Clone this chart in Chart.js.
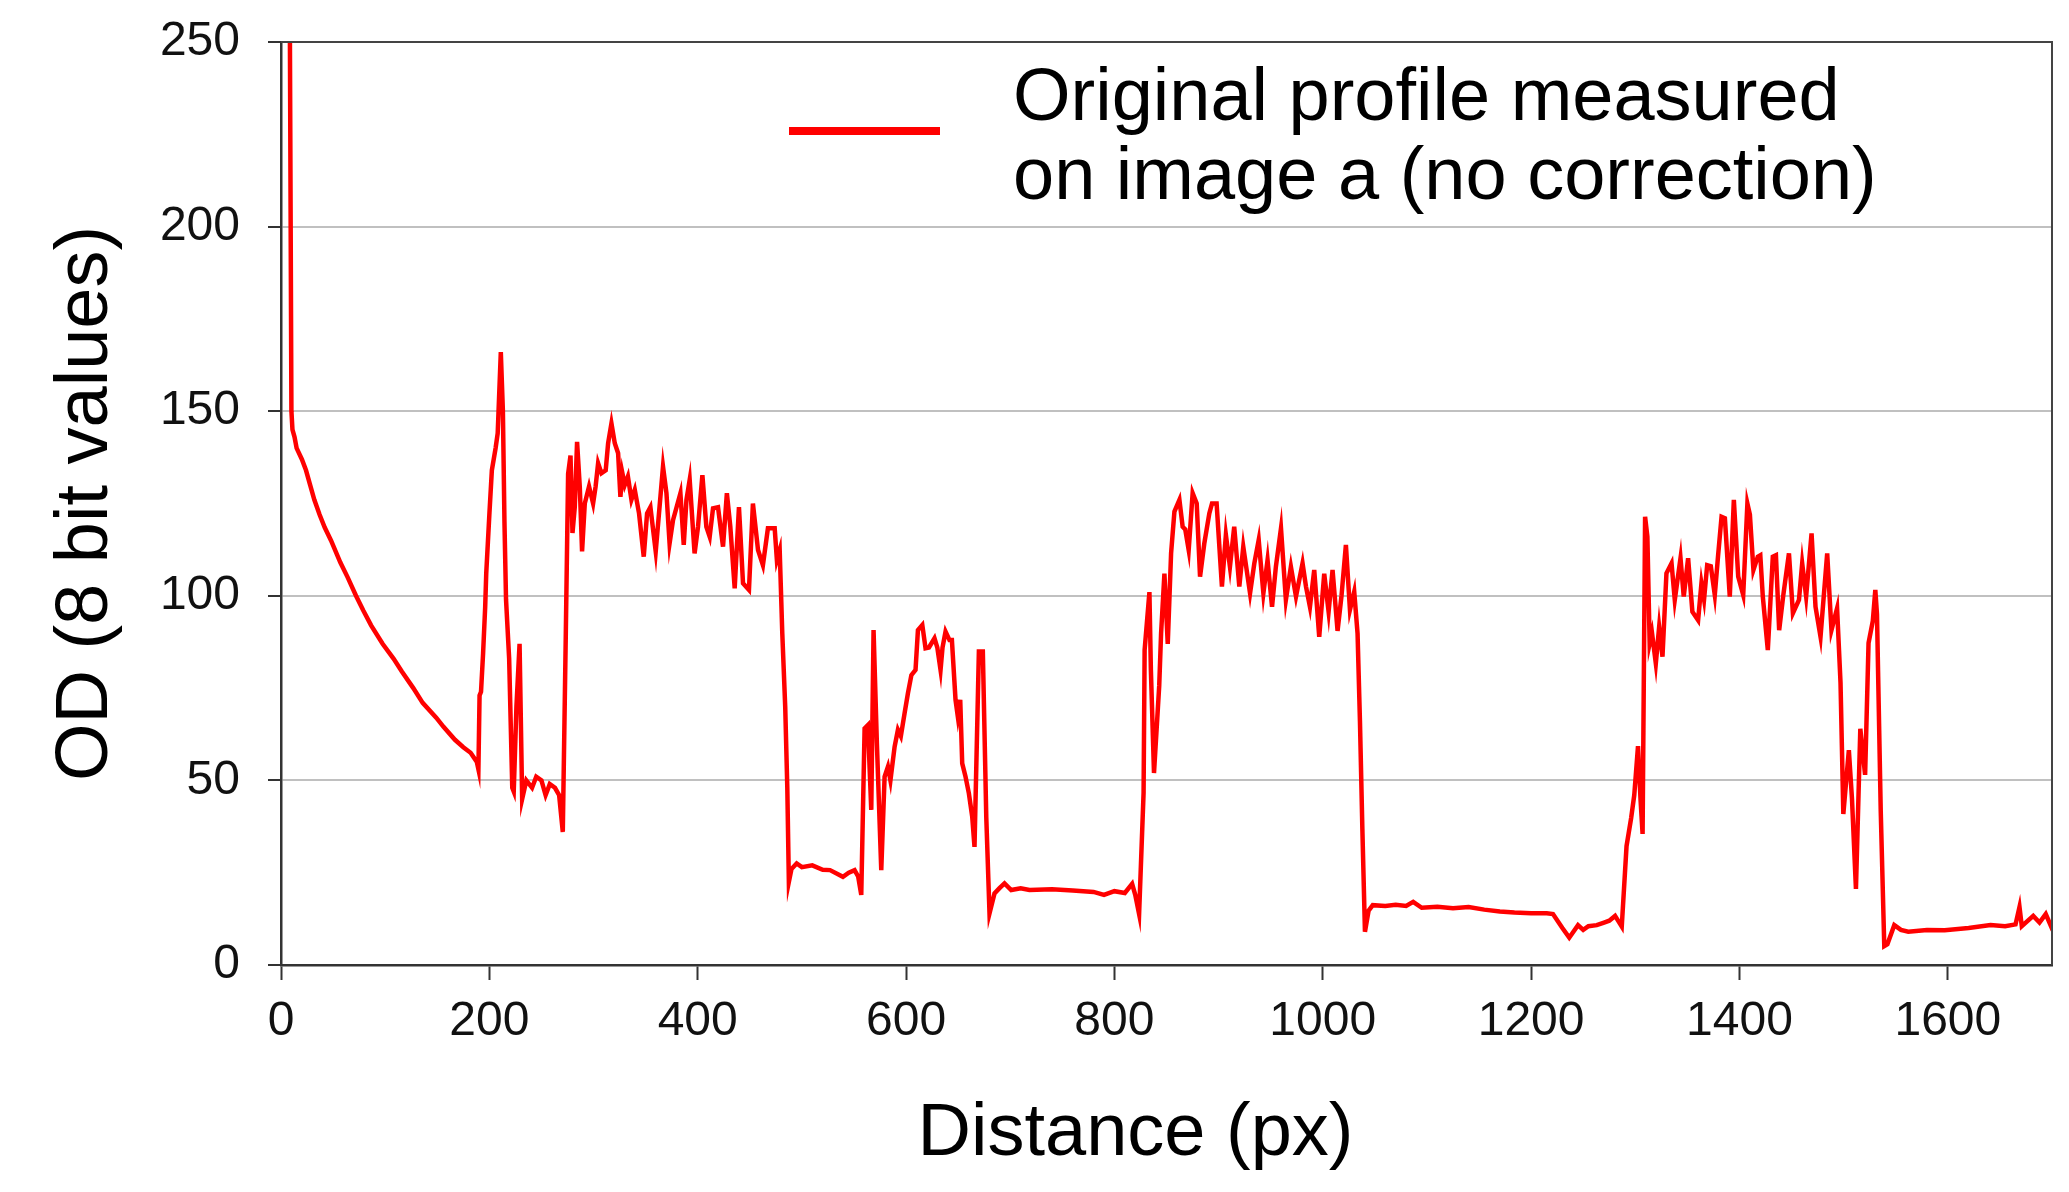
<!DOCTYPE html>
<html>
<head>
<meta charset="utf-8">
<title>OD profile</title>
<script src="https://cdn.jsdelivr.net/npm/chart.js@4/dist/chart.umd.min.js"></script>
<style>
    html, body { margin: 0; padding: 0; background: #fff; }
    #wrap { width: 2069px; height: 1192px; }
</style>
</head>
<body>
<div id="wrap"><canvas id="profileChart" width="2069" height="1192"></canvas></div>
<script>
// ── Data ───────────────────────────────────────────────
const distancePx = [
    8.5, 10, 11, 13, 15, 20, 24, 28, 32, 37, 42, 48, 57, 64, 72, 79, 86.5, 97.5, 108, 116,
    127, 136, 149, 156, 167, 175, 182, 188, 189.5, 190.6, 192, 194, 196, 197, 200, 202.4, 206, 208, 211, 213,
    214.5, 216, 219, 222, 223.4, 226, 229, 231.5, 235.5, 241, 245, 250, 254, 258, 263, 267, 270.5, 273.4, 275.6, 277.9,
    279.8, 282, 284.2, 286.8, 289, 291.6, 295.7, 299.6, 302, 304.4, 307.6, 311.7, 314, 317.2, 320.4, 323.6, 325.8, 327.7, 330, 333,
    336.4, 339.6, 343.7, 348.2, 351.4, 354.6, 359.7, 366.7, 370, 373, 376.3, 383.4, 386.6, 389.2, 392.3, 397, 400.3, 404.5, 408.3, 411.5,
    414.7, 419.5, 424.3, 428, 431.3, 435.5, 439.6, 443.5, 449.2, 453, 457.9, 462.6, 467.4, 473.9, 476, 478.7, 481.2, 484, 486, 487.5,
    490, 495, 500, 510, 520, 527, 539.4, 545, 550.6, 554, 557, 560.2, 563.4, 566.6, 568.8, 572, 576.2, 579.4, 582.6, 585,
    589, 592.2, 595, 598.6, 601.8, 605.1, 609.1, 611.4, 615.6, 618.7, 622, 627.3, 630, 633.1, 635, 637.9, 641.7, 644, 647.5, 649.7,
    652, 653.9, 657.1, 660.3, 663.5, 665.7, 669.9, 673.7, 677, 680.1, 684.9, 689.7, 694.5, 700.9, 710, 718.5, 740, 760, 780, 790,
    800, 810, 817, 820, 823.7, 828, 829, 833.6, 835, 838, 843, 844.8, 848, 851.2, 854.4, 857.6, 862.4, 865.5, 868, 871.3,
    875.1, 879, 882.2, 886.3, 891.1, 893.7, 898.1, 903.2, 907, 910.9, 915, 919.9, 923.7, 930.2, 934.3, 938.5, 943, 947, 951.3, 955,
    959.9, 964.6, 969.4, 974.3, 980.6, 983.9, 987.7, 991.8, 996.6, 1001.4, 1005.6, 1009.4, 1014.2, 1018, 1022.2, 1026.1, 1030.2, 1033.4, 1035.7, 1038,
    1040.5, 1044, 1048, 1060, 1070, 1080, 1086.8, 1095, 1110, 1125, 1140, 1155, 1170, 1184, 1200, 1215, 1221, 1230, 1236.6, 1245,
    1250, 1255, 1263, 1270, 1275, 1280.6, 1287, 1291.6, 1296, 1299, 1302.6, 1305, 1307, 1309.4, 1311.6, 1313.8, 1316, 1319.7, 1322.9, 1326.1,
    1329.9, 1334.8, 1337.9, 1343.4, 1346.5, 1350.7, 1354.8, 1360.3, 1363.5, 1366, 1369, 1372.5, 1376.3, 1379.5, 1382.8, 1386, 1390.7, 1394.6, 1398.8, 1403.6,
    1407.6, 1410, 1413.4, 1417.6, 1420, 1422.4, 1427.2, 1432, 1435, 1438.1, 1442, 1447.5, 1451.3, 1457.1, 1460.2, 1464, 1469.2, 1473, 1477.8, 1484.2,
    1488.3, 1493.7, 1497, 1499.7, 1505, 1508, 1511.8, 1516, 1520.6, 1523.9, 1528, 1530.4, 1532, 1535.6, 1539, 1542, 1548.6, 1555, 1562, 1580,
    1597, 1620, 1641, 1655, 1665, 1668.8, 1671, 1682, 1688, 1694, 1698.6, 1700
];
const odValues = [
    255, 150, 145, 143, 140, 137, 134, 130, 126, 122, 118.5, 115, 109, 105, 100, 96, 92, 87, 83, 79.5,
    75, 71, 67, 64.5, 61, 59, 57.5, 55, 53, 73, 74, 84.5, 97, 106, 122, 134, 140, 144, 166, 150,
    120, 99, 83, 48, 47, 70, 87, 45, 50, 48, 51, 50, 46, 49, 48, 46, 36, 90, 133, 138,
    117, 124, 141.7, 129.6, 112, 125, 129.6, 125, 129.6, 135.9, 133.2, 134, 141.3, 146.7, 141.3, 138.6, 126.8, 133.2, 130, 132.3,
    126, 128.7, 122.3, 110.6, 122.3, 124, 112, 135, 127.8, 114.2, 120.5, 127.8, 113.8, 126, 131.4, 111.5, 118.7, 132.7, 118.7, 116,
    123.7, 124, 113.3, 127.8, 118.7, 102, 124, 103.4, 101.6, 125, 112.4, 108.3, 118.3, 118.3, 109.7, 112.4, 89.8, 70, 48, 22.5,
    26, 27.5, 26.5, 27, 25.8, 25.7, 23.9, 25, 25.7, 24, 19, 64.1, 65, 42, 90.7, 60, 25.7, 51, 53.7, 50,
    59.1, 63.7, 62, 68.2, 73.6, 78.5, 79.9, 90.7, 92.1, 85.8, 86, 88.5, 86, 79.9, 86, 90.3, 88, 88, 71.8, 67.3,
    71.8, 54.6, 51, 46.5, 40.2, 32, 84.9, 84.9, 40, 14, 19.4, 20.8, 22.1, 20.3, 20.8, 20.3, 20.5, 20.2, 19.8, 19,
    20, 19.5, 22, 19, 13.8, 46.6, 85.3, 101, 80, 52, 75.6, 89.8, 106, 87, 111.5, 122.8, 126, 118.7, 118, 112.4,
    127.8, 125, 105.2, 114.2, 122.3, 125, 125, 102.5, 116.5, 107.9, 118.7, 102.5, 113.3, 100.7, 108.8, 115.1, 100.7, 109.7, 97, 107.9,
    118.3, 98.9, 107.9, 99.8, 108.8, 102.5, 97, 107, 88.9, 106, 95.7, 107, 90.5, 100, 113.8, 96.2, 101.1, 89.8, 66, 37,
    9, 14.7, 16.2, 16, 16.3, 16, 17.1, 15.5, 15.8, 15.4, 15.7, 15, 14.5, 14.2, 14, 14, 13.8, 10, 7.4, 10.8,
    9.5, 10.5, 10.8, 11.5, 12, 13.3, 10.4, 32.2, 39.8, 46, 59.3, 45, 35.5, 121.4, 116, 87.1, 90, 81.7, 91.6, 83.5,
    106.1, 108.8, 98.9, 110.2, 99.8, 110.2, 95.7, 93.4, 103.4, 99, 108.3, 108, 100.2, 111, 121.4, 121, 99.8, 126, 105.2, 100.2,
    125, 122, 107, 110.6, 111, 99.8, 85.3, 110.6, 111, 90.7, 100, 111.5, 95.3, 98.9, 108.8, 99.8, 116.9, 97, 88.9, 111.5,
    90.7, 96.6, 76.4, 40.9, 58.2, 45, 20.6, 64, 51.5, 87.2, 93.2, 101.6, 95, 41.8, 5.1, 5.6, 10.8, 9.5, 9, 9.5,
    9.4, 10, 10.8, 10.5, 11, 15.7, 10.5, 13.3, 11.5, 13.8, 10.8, 12
];
const xTicks = [0, 200, 400, 600, 800, 1000, 1200, 1400, 1600];
const yTicks = [0, 50, 100, 150, 200, 250];
const legendLines = ["Original profile measured", "on image a (no correction)"];
const xTitle = "Distance (px)";
const yTitle = "OD (8 bit values)";

const FONT = "'Liberation Sans', Arial, sans-serif";

// ── Plugins ────────────────────────────────────────────
// box around the plot (top and right edges)
const plotFrame = {
    id: "plotFrame",
    afterDraw(chart) {
        const { ctx, chartArea: a } = chart;
        ctx.save();
        ctx.strokeStyle = "#444";
        ctx.lineWidth = 2;
        ctx.beginPath();
        ctx.moveTo(a.left, a.top);
        ctx.lineTo(a.right, a.top);
        ctx.lineTo(a.right, a.bottom);
        ctx.stroke();
        ctx.restore();
    }
};

// legend inside the plot, two lines of text next to a line sample
const profileLegend = {
    id: "profileLegend",
    afterDraw(chart) {
        const { ctx, chartArea: a } = chart;
        const ds = chart.data.datasets[0];
        ctx.save();
        ctx.strokeStyle = ds.borderColor;
        ctx.lineWidth = 8;
        ctx.beginPath();
        ctx.moveTo(a.left + 508, a.top + 89);
        ctx.lineTo(a.left + 659, a.top + 89);
        ctx.stroke();
        ctx.fillStyle = "#000";
        ctx.font = "74px " + FONT;
        ctx.textAlign = "left";
        ctx.textBaseline = "alphabetic";
        legendLines.forEach((line, i) => ctx.fillText(line, a.left + 732, a.top + 78 + i * 79));
        ctx.restore();
    }
};

// x title sits a bit left of the plot centre in the original
const xAxisTitle = {
    id: "xAxisTitle",
    afterDraw(chart) {
        const { ctx, chartArea: a } = chart;
        ctx.save();
        ctx.fillStyle = "#000";
        ctx.font = "74px " + FONT;
        ctx.textAlign = "center";
        ctx.textBaseline = "middle";
        ctx.fillText(xTitle, (a.left + a.right) / 2 - 31, a.bottom + 170);
        ctx.restore();
    }
};

// ── Chart ──────────────────────────────────────────────
new Chart(document.getElementById("profileChart"), {
    type: "line",
    data: {
        datasets: [{
            label: legendLines.join(" "),
            data: distancePx.map((d, i) => ({ x: d, y: odValues[i] })),
            borderColor: "#ff0000",
            borderWidth: 4.5,
            pointRadius: 0,
            tension: 0,
            fill: false,
            clip: 0
        }]
    },
    options: {
        responsive: false,
        animation: false,
        devicePixelRatio: 1,
        layout: { padding: { top: 42, right: 17, bottom: 0, left: 0 } },
        plugins: {
            legend: { display: false },
            tooltip: { enabled: false }
        },
        scales: {
            x: {
                type: "linear",
                min: 0,
                max: 1700,
                afterBuildTicks: s => { s.ticks = xTicks.map(v => ({ value: v })); },
                afterFit: s => { s.height = 227; s.paddingLeft = 0; s.paddingRight = 0; },
                grid: { drawOnChartArea: false, tickLength: 15, tickColor: "#333", tickWidth: 2 },
                border: { display: true, color: "#333", width: 2.5 },
                ticks: {
                    color: "#111",
                    font: { family: FONT, size: 48 },
                    padding: 13,
                    maxRotation: 0,
                    autoSkip: false,
                    callback: v => String(v)
                }
            },
            y: {
                type: "linear",
                min: 0,
                max: 250,
                afterBuildTicks: s => { s.ticks = yTicks.map(v => ({ value: v })); },
                afterFit: s => { s.width = 281; s.paddingTop = 0; s.paddingBottom = 0; },
                grid: { color: "#c0c0c0", lineWidth: 2, tickLength: 13, tickColor: "#333", tickWidth: 2 },
                border: { display: true, color: "#333", width: 2.5 },
                ticks: { color: "#111", font: { family: FONT, size: 48 }, padding: 28 },
                title: {
                    display: true,
                    text: yTitle,
                    color: "#000",
                    font: { family: FONT, size: 74, lineHeight: 1 },
                    padding: { top: 50, bottom: 0 }
                }
            }
        }
    },
    plugins: [plotFrame, profileLegend, xAxisTitle]
});
</script>
</body>
</html>
